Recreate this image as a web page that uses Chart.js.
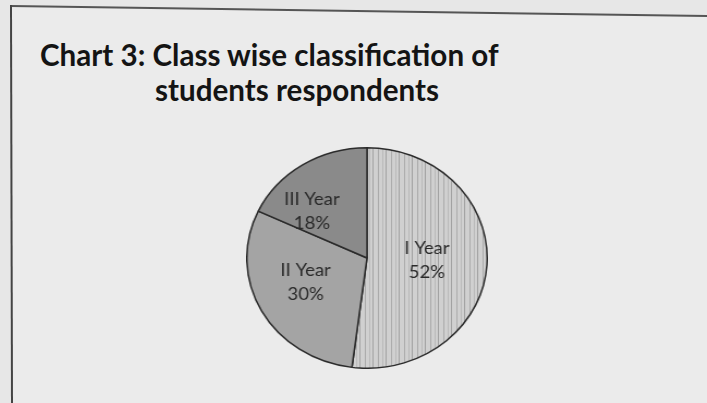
<!DOCTYPE html>
<html>
<head>
<meta charset="utf-8">
<script src="https://cdn.jsdelivr.net/npm/chart.js@4.4.1/dist/chart.umd.min.js"></script>
<style>
  html, body { margin: 0; padding: 0; }
  body { width: 707px; height: 403px; background: #e7e7e7; position: relative; overflow: hidden; font-family: Lato, "Open Sans", sans-serif; }
  #frame { position: absolute; left: 0; top: 0; }
  .title { position: absolute; font-weight: 700; font-size: 29.6px; line-height: 29px; color: #141414; white-space: nowrap; letter-spacing: 0px; }
  #pieWrap { position: absolute; left: 256px; top: 147px; width: 222px; height: 222px; transform: scaleX(1.09); transform-origin: 50% 50%; }
</style>
</head>
<body>
<svg id="frame" width="707" height="403">
  <polygon points="11,6 707,16 707,403 11,403" fill="#ebebeb"/>
  <line x1="11" y1="6" x2="707" y2="16" stroke="#555" stroke-width="2"/>
  <line x1="11" y1="5" x2="12" y2="403" stroke="#444" stroke-width="2"/>
</svg>
<div class="title" style="left:40px; top:40px;">Chart 3: Class wise classification of</div>
<div class="title" style="left:155px; top:75px;">students respondents</div>
<div id="pieWrap"><canvas id="pie" width="222" height="222"></canvas></div>
<script>
// Class-wise share of student respondents
const classes = ['I Year', 'II Year', 'III Year'];
const shares = [52, 30, 18];

// Light vertical-hatch fill for the first slice
function hatchPattern() {
  const c = document.createElement('canvas');
  c.width = 12; c.height = 4;
  const g = c.getContext('2d');
  g.fillStyle = '#d0d0d0';
  g.fillRect(0, 0, 12, 4);
  g.fillStyle = '#ababab';
  g.fillRect(1, 0, 1, 4);
  g.fillStyle = '#bababa';
  g.fillRect(5, 0, 1, 4);
  g.fillStyle = '#a2a2a2';
  g.fillRect(8, 0, 1, 4);
  return g.createPattern(c, 'repeat');
}

const sliceLabels = {
  id: 'sliceLabels',
  afterDatasetsDraw(chart, args, opts) {
    const ctx = chart.ctx;
    const meta = chart.getDatasetMeta(0);
    const nudge = opts.nudge || [];
    ctx.save();
    ctx.font = '17px Lato, "Open Sans", sans-serif';
    ctx.fillStyle = '#2a2a2a';
    ctx.textAlign = 'center';
    ctx.textBaseline = 'middle';
    meta.data.forEach((arc, i) => {
      const p = arc.tooltipPosition();
      const d = nudge[i] || [0, 0];
      const val = chart.data.datasets[0].data[i];
      ctx.fillText(chart.data.labels[i], p.x + d[0], p.y + d[1] - 12);
      ctx.fillText(val + '%', p.x + d[0], p.y + d[1] + 12);
    });
    ctx.restore();
  }
};

new Chart(document.getElementById('pie'), {
  type: 'pie',
  data: {
    labels: classes,
    datasets: [{
      data: shares,
      backgroundColor: [hatchPattern(), '#a4a4a4', '#8a8a8a'],
      borderColor: '#2b2b2b',
      borderWidth: 1.5
    }]
  },
  options: {
    responsive: false,
    animation: false,
    layout: { padding: 0 },
    plugins: {
      legend: { display: false },
      tooltip: { enabled: false },
      title: { display: false },
      sliceLabels: { nudge: [[0, -1], [-8, -2], [-21, 0]] }
    }
  },
  plugins: [sliceLabels]
});
</script>
</body>
</html>
